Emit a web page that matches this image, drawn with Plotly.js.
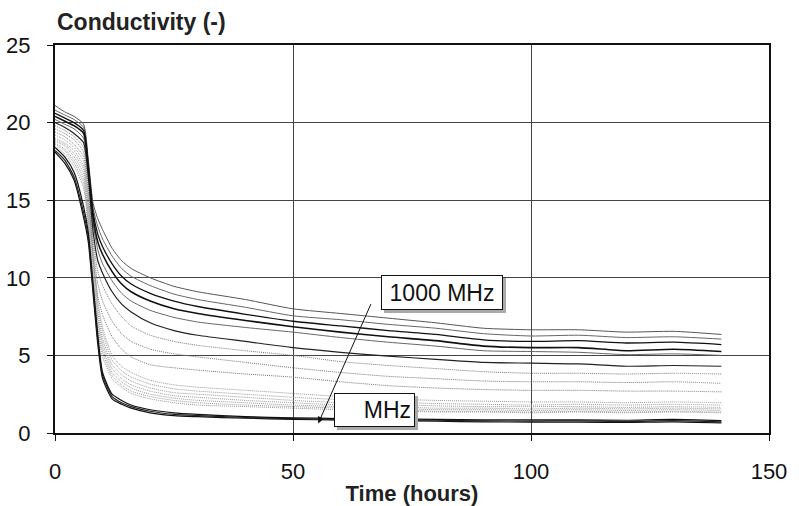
<!DOCTYPE html>
<html>
<head>
<meta charset="utf-8">
<script src="https://cdn.plot.ly/plotly-3.0.1.min.js"></script>
<style>html,body{margin:0;padding:0;background:#fff;}#chart{width:799px;height:506px;}</style>
</head>
<body>
<div id="chart"></div>
<script>
// Time axis (hours)
const hours = [0, 2, 4, 6, 7, 8, 9, 10, 12, 14, 16, 20, 25, 30, 40, 50, 60, 70, 80, 90, 100, 110, 120, 130, 140];

// Upper family of curves (top to bottom)
const curveU1 = [21.1, 20.7, 20.4, 19.9, 17.6, 14.8, 13.8, 13.1, 11.9, 11.1, 10.6, 10.0, 9.45, 9.1, 8.6, 8.0, 7.7, 7.4, 7.1, 6.75, 6.65, 6.65, 6.5, 6.55, 6.35];
const curveU2 = [20.8, 20.5, 20.2, 19.7, 17.4, 14.5, 13.3, 12.5, 11.4, 10.6, 10.1, 9.5, 8.95, 8.6, 8.1, 7.55, 7.3, 7.0, 6.75, 6.4, 6.25, 6.3, 6.15, 6.2, 6.05];
const curveU3 = [20.6, 20.3, 20.0, 19.5, 17.2, 14.2, 12.8, 12.0, 10.9, 10.1, 9.6, 9.0, 8.5, 8.15, 7.65, 7.2, 6.9, 6.6, 6.35, 6.0, 5.9, 5.95, 5.8, 5.85, 5.7];
const curveU4 = [20.4, 20.1, 19.8, 19.3, 17.0, 13.9, 12.3, 11.5, 10.4, 9.6, 9.1, 8.5, 8.0, 7.7, 7.25, 6.85, 6.5, 6.2, 5.95, 5.6, 5.5, 5.5, 5.3, 5.4, 5.25];
const curveU5 = [20.2, 19.9, 19.6, 19.0, 16.8, 13.5, 11.8, 10.9, 9.8, 9.0, 8.5, 7.9, 7.45, 7.15, 6.8, 6.5, 6.15, 5.85, 5.6, 5.3, 5.25, 5.2, 5.05, 5.1, 5.0];
const curveU6 = [20.0, 19.7, 19.3, 18.7, 16.5, 13.0, 11.1, 10.3, 9.1, 8.3, 7.8, 7.1, 6.6, 6.3, 5.9, 5.5, 5.2, 4.95, 4.75, 4.55, 4.5, 4.45, 4.3, 4.35, 4.3];
const curveU7 = [19.8, 19.5, 19.1, 18.4, 16.2, 12.5, 10.4, 9.5, 8.3, 7.5, 6.9, 6.3, 5.9, 5.65, 5.3, 5.0, 4.6, 4.35, 4.15, 3.95, 3.85, 3.85, 3.8, 3.85, 3.8];
const curveU8 = [19.6, 19.3, 18.9, 18.1, 15.9, 12.0, 9.6, 8.5, 7.2, 6.4, 5.9, 5.4, 5.1, 4.9, 4.55, 4.2, 3.9, 3.65, 3.5, 3.35, 3.3, 3.3, 3.25, 3.3, 3.2];
const curveU9 = [19.4, 19.1, 18.6, 17.8, 15.5, 11.4, 8.8, 7.6, 6.2, 5.4, 4.9, 4.4, 4.2, 4.05, 3.8, 3.6, 3.3, 3.05, 2.9, 2.8, 2.75, 2.75, 2.7, 2.7, 2.65];

// Middle cluster of light curves
const curveC1 = [19.2, 18.9, 18.4, 17.5, 15.0, 11.5, 8.5, 6.8, 5.0, 4.3, 3.9, 3.4, 3.1, 2.95, 2.75, 2.55, 2.35, 2.2, 2.1, 2.05, 2.0, 2.0, 1.95, 2.0, 1.95];
const curveC2 = [19.0, 18.7, 18.2, 17.2, 14.7, 11.2, 8.2, 6.5, 4.7, 4.0, 3.6, 3.15, 2.85, 2.7, 2.5, 2.3, 2.15, 2.0, 1.9, 1.85, 1.8, 1.85, 1.8, 1.85, 1.8];
const curveC3 = [18.9, 18.6, 18.0, 17.0, 14.4, 10.8, 7.8, 6.1, 4.4, 3.75, 3.35, 2.9, 2.6, 2.5, 2.3, 2.1, 1.95, 1.85, 1.75, 1.7, 1.7, 1.7, 1.65, 1.7, 1.65];
const curveC4 = [18.8, 18.5, 17.8, 16.7, 14.0, 10.4, 7.4, 5.8, 4.15, 3.5, 3.1, 2.7, 2.4, 2.3, 2.1, 1.95, 1.8, 1.7, 1.6, 1.6, 1.55, 1.6, 1.55, 1.6, 1.55];
const curveC5 = [18.7, 18.3, 17.6, 16.4, 13.7, 10.0, 7.1, 5.5, 3.9, 3.3, 2.9, 2.5, 2.25, 2.1, 1.95, 1.8, 1.7, 1.6, 1.5, 1.5, 1.45, 1.5, 1.45, 1.5, 1.45];
const curveC6 = [18.6, 18.2, 17.4, 16.1, 13.4, 9.7, 6.8, 5.2, 3.7, 3.1, 2.7, 2.35, 2.1, 1.95, 1.8, 1.7, 1.6, 1.5, 1.4, 1.4, 1.35, 1.4, 1.35, 1.4, 1.35];
const curveC7 = [18.5, 18.0, 17.2, 15.8, 13.1, 9.4, 6.5, 4.9, 3.5, 2.95, 2.55, 2.2, 1.95, 1.8, 1.7, 1.6, 1.5, 1.45, 1.35, 1.35, 1.3, 1.35, 1.3, 1.35, 1.3];

// Bottom dark curves
const curveB1 = [18.4, 17.8, 16.8, 14.6, 12.9, 9.6, 6.3, 3.9, 2.5, 2.1, 1.8, 1.5, 1.3, 1.2, 1.05, 0.98, 0.93, 0.9, 0.88, 0.85, 0.84, 0.85, 0.82, 0.88, 0.8];
const curveB2 = [18.2, 17.6, 16.5, 14.2, 12.6, 9.3, 6.0, 3.7, 2.35, 1.95, 1.7, 1.4, 1.2, 1.12, 1.0, 0.92, 0.88, 0.85, 0.82, 0.78, 0.77, 0.78, 0.74, 0.8, 0.72];
const curveB3 = [18.1, 17.4, 16.3, 13.9, 12.3, 9.0, 5.7, 3.5, 2.2, 1.85, 1.6, 1.3, 1.12, 1.05, 0.95, 0.88, 0.83, 0.8, 0.76, 0.72, 0.7, 0.7, 0.68, 0.72, 0.65];

const seriesList = [
  {y: curveC7, color: '#999', width: 1, dash: '1px,1px'},
  {y: curveC6, color: '#999', width: 1, dash: '1px,1px'},
  {y: curveC5, color: '#999', width: 1, dash: '1px,1px'},
  {y: curveC4, color: '#999', width: 1, dash: '1px,1px'},
  {y: curveC3, color: '#999', width: 1, dash: '1px,1px'},
  {y: curveC2, color: '#999', width: 1, dash: '1px,1px'},
  {y: curveC1, color: '#999', width: 1, dash: '1px,1px'},
  {y: curveU9, color: '#777', width: 1, dash: '1px,1px'},
  {y: curveU8, color: '#777', width: 1, dash: '1px,1px'},
  {y: curveU7, color: '#777', width: 1, dash: '1px,1px'},
  {y: curveU5, color: '#666', width: 1, dash: 'solid'},
  {y: curveU2, color: '#666', width: 1, dash: 'solid'},
  {y: curveU1, color: '#555', width: 1, dash: 'solid'},
  {y: curveU6, color: '#222', width: 1.2, dash: 'solid'},
  {y: curveU4, color: '#111', width: 1.6, dash: 'solid'},
  {y: curveU3, color: '#111', width: 1.3, dash: 'solid'},
  {y: curveB3, color: '#111', width: 1.2, dash: 'solid'},
  {y: curveB2, color: '#222', width: 1.2, dash: 'solid'},
  {y: curveB1, color: '#111', width: 1.2, dash: 'solid'}
];

const traces = seriesList.map(s => ({
  type: 'scatter', mode: 'lines', x: hours, y: s.y,
  line: {color: s.color, width: s.width, dash: s.dash, shape: 'spline', smoothing: 0.6},
  hoverinfo: 'skip'
}));

const fontFam = 'Liberation Sans, Arial, Helvetica, sans-serif';

const axisCommon = {
  showgrid: true, gridcolor: '#444', gridwidth: 1, zeroline: false,
  showline: true, mirror: true, linecolor: '#111', linewidth: 2,
  ticks: 'outside', ticklen: 6, tickcolor: '#111', tickwidth: 1,
  tickfont: {size: 22, color: '#111', family: fontFam}
};

const layout = {
  width: 799, height: 506,
  margin: {l: 55, r: 30, t: 45, b: 73},
  paper_bgcolor: '#fff', plot_bgcolor: '#fff',
  showlegend: false,
  font: {family: fontFam, size: 22, color: '#111'},
  title: {
    text: '<b>Conductivity (-)</b>',
    font: {size: 23, color: '#222', family: fontFam},
    xref: 'container', yref: 'container',
    x: 57 / 799, xanchor: 'left', y: 1 - 22 / 506, yanchor: 'middle'
  },
  xaxis: Object.assign({}, axisCommon, {
    range: [0, 150], tick0: 0, dtick: 50, ticklabelstandoff: 12,
    title: {text: '<b>Time (hours)</b>', font: {size: 22, color: '#222', family: fontFam}, standoff: 2}
  }),
  yaxis: Object.assign({}, axisCommon, {
    range: [0, 25], tick0: 0, dtick: 5, ticklabelstandoff: 12
  }),
  annotations: [
    {x: 55.3, y: 0.62, ax: 66.5, ay: 8.4, xref: 'x', yref: 'y', axref: 'x', ayref: 'y',
     text: '', showarrow: true, arrowhead: 2, arrowsize: 1.3, arrowwidth: 1, arrowcolor: '#111',
     standoff: 0, startstandoff: 0},
    {x: 81.3, y: 9.05, xref: 'x', yref: 'y', text: '&nbsp;', showarrow: false,
     font: {size: 23, color: '#aaa', family: fontFam}, bgcolor: '#aaa', bordercolor: '#aaa', borderwidth: 1,
     borderpad: 3, width: 114, height: 27, xshift: 3, yshift: -3},
    {x: 81.3, y: 9.05, xref: 'x', yref: 'y', text: '1000 MHz', showarrow: false,
     font: {size: 23, color: '#111', family: fontFam}, bgcolor: '#fff', bordercolor: '#111', borderwidth: 1,
     borderpad: 3, width: 114, height: 27},
    {x: 67.1, y: 1.48, xref: 'x', yref: 'y', text: '&nbsp;', showarrow: false,
     font: {size: 23, color: '#aaa', family: fontFam}, bgcolor: '#aaa', bordercolor: '#aaa', borderwidth: 1,
     borderpad: 3, width: 73, height: 26, xshift: 3, yshift: -3},
    {x: 67.1, y: 1.48, xref: 'x', yref: 'y', text: 'MHz', showarrow: false, align: 'right',
     font: {size: 23, color: '#111', family: fontFam}, bgcolor: '#fff', bordercolor: '#111', borderwidth: 1,
     borderpad: 3, width: 73, height: 26}
  ]
};

Plotly.newPlot('chart', traces, layout, {displayModeBar: false, staticPlot: true});
</script>
</body>
</html>
